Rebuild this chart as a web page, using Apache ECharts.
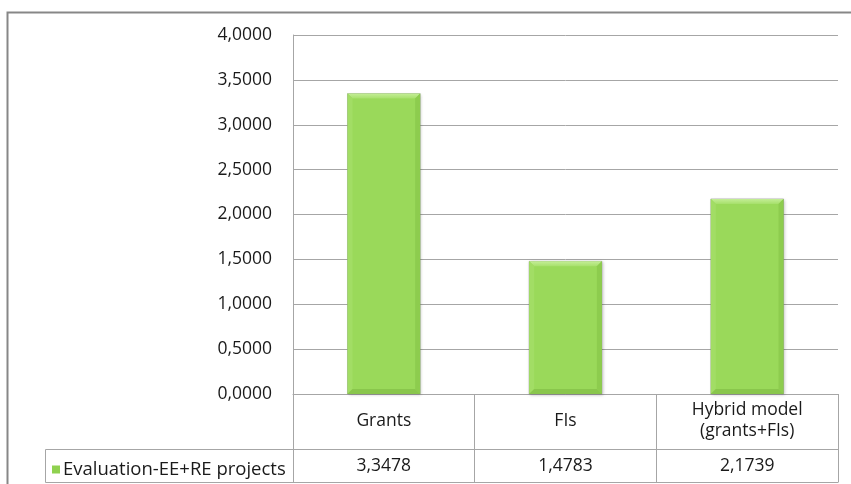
<!DOCTYPE html>
<html>
<head>
<meta charset="utf-8">
<script src="https://cdn.jsdelivr.net/npm/echarts@6/dist/echarts.min.js"></script>
<style>
  html, body { margin: 0; padding: 0; background: #fff; }
  #chart { width: 851px; height: 484px; }
</style>
</head>
<body>
<div id="chart"></div>
<script>
// Chart data
const categories = ['Grants', 'FIs', 'Hybrid model\n(grants+FIs)'];
const seriesName = 'Evaluation-EE+RE projects';
const values = [3.3478, 1.4783, 2.1739];
const yTicks = { min: 0, max: 4, interval: 0.5 };

const FONT = 'Open Sans';
const FS = 17.5;
const TEXT = '#1a1a1a';
const LINE = '#a6a6a6';

// Number format with a decimal comma and four decimals
const fmt = v => v.toFixed(4).replace('.', ',');

const chart = echarts.init(document.getElementById('chart'), null, { renderer: 'canvas' });

// Bar with a bevelled edge, sized from the category band
function renderBevelBar(params, api) {
  const idx = api.value(0);
  const v = api.value(1);
  const top = api.coord([idx, v]);
  const base = api.coord([idx, 0]);
  const bw = api.size([1, 0])[0] * 0.4;
  const x0 = top[0] - bw / 2, x1 = top[0] + bw / 2;
  const y0 = top[1], y1 = base[1];
  const b = 5;
  return {
    type: 'group',
    children: [
      { type: 'rect', shape: { x: x0, y: y0, width: bw, height: y1 - y0 },
        style: { fill: '#9ad95a', stroke: 'rgba(120,120,120,0.4)', lineWidth: 1,
                 shadowBlur: 3, shadowColor: 'rgba(0,0,0,0.22)', shadowOffsetX: 1, shadowOffsetY: 1 } },
      { type: 'polygon', shape: { points: [[x0, y0], [x1, y0], [x1 - b, y0 + b], [x0 + b, y0 + b]] },
        style: { fill: new echarts.graphic.LinearGradient(0, 0, 0, 1, [
          { offset: 0, color: '#c4ee97' }, { offset: 1, color: '#a7e06c' }]) } },
      { type: 'polygon', shape: { points: [[x0, y0], [x0 + b, y0 + b], [x0 + b, y1 - b], [x0, y1]] },
        style: { fill: '#a2dd65' } },
      { type: 'polygon', shape: { points: [[x1, y0], [x1, y1], [x1 - b, y1 - b], [x1 - b, y0 + b]] },
        style: { fill: '#8dcc4e' } },
      { type: 'polygon', shape: { points: [[x0, y1], [x1, y1], [x1 - b, y1 - b], [x0 + b, y1 - b]] },
        style: { fill: '#89c64c' } }
    ]
  };
}

const option = {
  animation: false,
  textStyle: { fontFamily: FONT },
  grid: { left: 293, right: 13, top: 35, bottom: 90, containLabel: false },
  legend: {
    left: 47, top: 455,
    itemWidth: 8, itemHeight: 8, itemGap: 4,
    icon: 'rect',
    textStyle: { fontFamily: FONT, fontSize: 18.5, color: TEXT, padding: [0, 0, 0, -2] },
    data: [seriesName]
  },
  xAxis: [
    {
      type: 'category',
      data: categories,
      boundaryGap: true,
      axisLine: { show: true, lineStyle: { color: LINE, width: 1 } },
      axisTick: { show: true, interval: 0, length: 88, lineStyle: { color: LINE, width: 1 } },
      axisLabel: { interval: 0, margin: 27, verticalAlign: 'middle', lineHeight: 21,
                   fontFamily: FONT, fontSize: FS, color: TEXT }
    },
    {
      type: 'category',
      data: categories,
      position: 'bottom',
      axisLine: { show: false },
      axisTick: { show: false },
      axisLabel: { interval: 0, margin: 72, verticalAlign: 'middle',
                   fontFamily: FONT, fontSize: FS, color: TEXT,
                   formatter: (val, i) => fmt(values[i]) }
    }
  ],
  yAxis: {
    type: 'value',
    min: yTicks.min, max: yTicks.max, interval: yTicks.interval,
    axisLine: { show: true, lineStyle: { color: LINE, width: 1 } },
    axisTick: { show: false },
    splitLine: { lineStyle: { color: LINE, width: 1 } },
    axisLabel: { margin: 21, fontFamily: FONT, fontSize: FS, color: TEXT, formatter: v => fmt(v) }
  },
  series: [{
    type: 'custom',
    name: seriesName,
    xAxisIndex: 0,
    itemStyle: { color: '#8fd14f' },
    renderItem: renderBevelBar,
    encode: { x: 0, y: 1 },
    data: values.map((v, i) => [i, v])
  }],
  graphic: [
    // chart area frame
    { type: 'rect', shape: { x: 7.5, y: 12.5, width: 900, height: 600 },
      style: { fill: null, stroke: '#878787', lineWidth: 2 }, silent: true, z: 0 },
    // data table rows
    { type: 'line', shape: { x1: 45.5, y1: 449.5, x2: 838.5, y2: 449.5 }, style: { stroke: LINE, lineWidth: 1 } },
    { type: 'line', shape: { x1: 45.5, y1: 482.5, x2: 838.5, y2: 482.5 }, style: { stroke: LINE, lineWidth: 1 } },
    { type: 'line', shape: { x1: 45.5, y1: 449.5, x2: 45.5, y2: 482.5 }, style: { stroke: LINE, lineWidth: 1 } }
  ]
};

chart.setOption(option);
</script>
</body>
</html>
